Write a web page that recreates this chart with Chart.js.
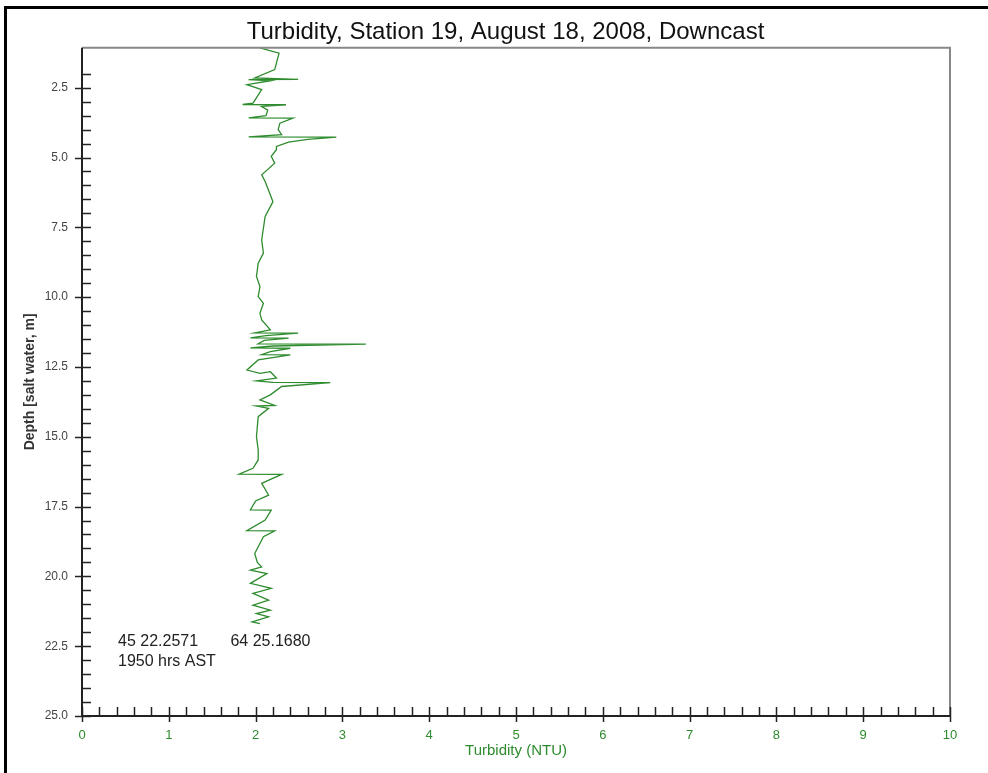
<!DOCTYPE html>
<html>
<head>
<meta charset="utf-8">
<script src="https://cdn.jsdelivr.net/npm/chart.js@4/dist/chart.umd.min.js"></script>
<style>
  html, body { margin: 0; padding: 0; background: #fff; }
  #wrap { position: relative; width: 988px; height: 773px; }
  #frame { position: absolute; left: 4px; top: 6px; right: 0; bottom: 0;
           border-left: 3px solid #000; border-top: 3px solid #000; pointer-events: none; }
</style>
</head>
<body>
<div id="wrap">
  <canvas id="turbChart" width="988" height="773"></canvas>
  <div id="frame"></div>
</div>
<script>
// depth (m) and turbidity (NTU)
const depth = [1.07,1.26,1.85,2.15,2.20,2.21,2.25,2.39,2.57,3.05,3.10,3.11,3.17,3.30,3.50,3.58,3.59,3.77,4.00,4.18,
  4.26,4.27,4.35,4.45,4.60,4.72,4.96,5.20,5.62,5.86,6.58,7.11,7.95,8.42,8.78,9.26,9.62,9.98,10.22,10.58,
  10.82,11.17,11.28,11.29,11.38,11.46,11.47,11.55,11.67,11.68,11.75,11.82,11.83,11.95,12.06,12.07,12.25,12.61,12.73,12.67,
  12.90,13.00,13.05,13.06,13.20,13.50,13.68,13.88,13.90,13.98,14.28,15.00,15.47,15.83,16.13,16.34,16.35,16.67,17.09,17.30,
  17.62,17.63,17.98,18.36,18.37,18.58,19.18,19.50,19.66,19.78,19.90,20.25,20.43,20.61,20.85,21.03,21.21,21.33,21.45,21.63,21.69];
const turbidity = [2.05,2.27,2.22,1.99,2.49,1.92,2.17,1.90,2.07,1.97,1.85,2.35,2.07,2.14,2.12,1.92,2.43,2.28,2.26,2.30,
  1.92,2.93,2.60,2.38,2.24,2.24,2.18,2.22,2.07,2.11,2.20,2.11,2.07,2.09,2.03,2.01,2.05,2.03,2.09,2.05,
  2.07,2.17,1.99,2.49,2.12,1.94,2.38,2.10,2.03,3.27,2.20,1.94,2.40,2.17,2.07,2.40,2.03,1.90,2.05,2.17,
  2.24,2.01,2.20,2.86,2.30,2.17,2.05,2.22,2.01,2.15,2.03,2.01,2.03,2.03,1.97,1.81,2.30,2.07,2.15,2.00,
  1.94,2.18,2.11,1.90,2.22,2.09,1.99,2.02,2.07,1.94,2.13,1.94,2.18,1.97,2.15,1.97,2.17,2.01,2.15,1.96,2.05];

const depthRange = [1.07, 25];
const turbRange = [0, 10];
const noteLines = [["45 22.2571", 0.415, 22.32], ["64 25.1680", 1.71, 22.32], ["1950 hrs AST", 0.415, 23.04]];

const green = '#2e8b2e';
const fontFam = 'Arial, "Liberation Sans", sans-serif';
const pts = depth.map(function(d, i) { return {x: turbidity[i], y: d}; });

// little tick marks drawn inside the plot, like the original software does
const tickMarks = {
  id: 'tickMarks',
  afterLayout: function(chart) {
    // title in the source is centred a bit right of the canvas middle
    if (chart.titleBlock) { chart.titleBlock.left = 61; chart.titleBlock.right = 950; }
  },
  afterDraw: function(chart) {
    const ctx = chart.ctx, a = chart.chartArea;
    const xs = chart.scales.x, ys = chart.scales.y;
    ctx.save();
    // frame: grey top / right, black left / bottom
    ctx.strokeStyle = '#888';
    ctx.lineWidth = 2;
    ctx.beginPath();
    ctx.moveTo(a.left, a.top); ctx.lineTo(a.right, a.top); ctx.lineTo(a.right, a.bottom);
    ctx.stroke();
    ctx.strokeStyle = '#222';
    ctx.beginPath();
    ctx.moveTo(a.left, a.top); ctx.lineTo(a.left, a.bottom); ctx.lineTo(a.right, a.bottom);
    ctx.stroke();

    ctx.lineWidth = 1.5;
    ys.ticks.forEach(function(t) {
      const v = Math.round(t.value * 100) / 100;
      if (Math.abs(v * 2 - Math.round(v * 2)) > 1e-6) return;
      const p = Math.round(ys.getPixelForValue(v)) + 0.5;
      const major = Math.abs(v / 2.5 - Math.round(v / 2.5)) < 1e-6;
      ctx.beginPath();
      ctx.moveTo(a.left - (major ? 7 : 0), p);
      ctx.lineTo(a.left + 9, p);
      ctx.stroke();
    });
    xs.ticks.forEach(function(t) {
      const v = t.value;
      const p = Math.round(xs.getPixelForValue(v)) + 0.5;
      const major = Math.abs(v - Math.round(v)) < 1e-6;
      ctx.beginPath();
      ctx.moveTo(p, a.bottom + (major ? 6 : 0));
      ctx.lineTo(p, a.bottom - 9);
      ctx.stroke();
    });

    // position note
    ctx.fillStyle = '#222';
    ctx.font = '16px ' + fontFam;
    ctx.textBaseline = 'middle';
    noteLines.forEach(function(n) {
      ctx.fillText(n[0], xs.getPixelForValue(n[1]), ys.getPixelForValue(n[2]));
    });
    ctx.restore();
  }
};

new Chart(document.getElementById('turbChart'), {
  type: 'scatter',
  data: {
    datasets: [{
      label: 'Turbidity',
      data: pts,
      showLine: true,
      borderColor: green,
      borderWidth: 1.3,
      pointRadius: 0,
      tension: 0
    }]
  },
  options: {
    responsive: false,
    animation: false,
    layout: { padding: { left: 22, right: 38, top: 0, bottom: 0 } },
    plugins: {
      legend: { display: false },
      tooltip: { enabled: false },
      title: {
        display: true,
        text: 'Turbidity, Station 19, August 18, 2008, Downcast',
        color: '#111',
        font: { family: fontFam, size: 24, weight: 'normal' },
        padding: { top: 18, bottom: 1 }
      }
    },
    scales: {
      x: {
        type: 'linear',
        min: turbRange[0], max: turbRange[1],
        grid: { display: true, drawOnChartArea: false, drawTicks: false, color: 'rgba(0,0,0,0)' },
        border: { display: false },
        ticks: {
          stepSize: 0.2, autoSkip: false, maxRotation: 0, padding: 12,
          color: green,
          font: { family: fontFam, size: 13 },
          callback: function(v) { return Math.abs(v - Math.round(v)) < 1e-6 ? String(Math.round(v)) : ''; }
        },
        title: {
          display: true, text: 'Turbidity (NTU)', color: green,
          font: { family: fontFam, size: 15 },
          padding: { top: 0, bottom: 13 }
        },
        afterFit: function(s) { s.height = 57; }
      },
      y: {
        type: 'linear',
        reverse: true,
        min: depthRange[0], max: depthRange[1],
        grid: { display: true, drawOnChartArea: false, drawTicks: false, color: 'rgba(0,0,0,0)' },
        border: { display: false },
        ticks: {
          stepSize: 0.5, autoSkip: false, padding: 14,
          color: '#444',
          font: { family: fontFam, size: 12 },
          callback: function(v) {
            const r = Math.round(v * 100) / 100;
            return Math.abs(r / 2.5 - Math.round(r / 2.5)) < 1e-6 ? r.toFixed(1) : '';
          }
        },
        title: {
          display: true, text: 'Depth [salt water, m]', color: '#333',
          font: { family: fontFam, size: 14, weight: 'bold' },
          padding: { top: 0, bottom: 0 }
        },
        afterFit: function(s) { s.width = 60; }
      }
    }
  },
  plugins: [tickMarks]
});
</script>
</body>
</html>
